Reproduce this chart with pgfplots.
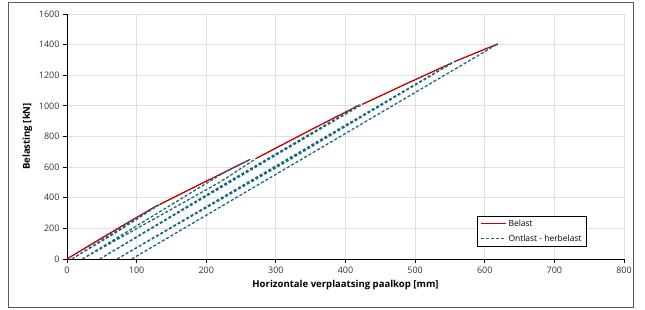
\documentclass[border=0pt]{standalone}
\usepackage{pgfplots}
\pgfplotsset{compat=1.18}
\usepackage{fontspec}
\setmainfont{Open Sans}
\definecolor{belast}{RGB}{192,0,0}
\definecolor{ontlast}{RGB}{24,104,128}
\begin{document}
\begin{tikzpicture}
\path[use as bounding box] (0,0) rectangle (645bp,310bp);
\draw[black!65, line width=0.8bp] (8bp,3bp) rectangle (633bp,308bp);
\begin{axis}[
  at={(67bp,51bp)}, anchor=south west,
  scale only axis, width=557bp, height=245bp,
  xmin=0, xmax=800, ymin=0, ymax=1600,
  xtick={0,100,...,800}, ytick={0,200,...,1600},
  axis lines=left, axis line style={-, black, line width=0.8bp},
  grid=major, grid style={draw=black!12, line width=0.8bp},
  tick align=outside, major tick length=4bp, tick style={black, line width=0.8bp},
  /pgf/number format/assume math mode=true,
  /pgf/number format/set thousands separator={},
  tick label style={font=\fontsize{9}{10}\selectfont, text=black!80},
  xlabel={\bfseries Horizontale verplaatsing paalkop [mm]},
  ylabel={\bfseries Belasting [kN]},
  label style={font=\fontsize{9.6}{11}\selectfont},
  unbounded coords=jump,
  legend style={at={(0.736,0.049)}, anchor=south west, draw=black, line width=0.6bp,
    font=\fontsize{8.5}{10}\selectfont, row sep=3bp, inner xsep=3bp, inner ysep=2bp},
  legend cell align=left,
  legend image code/.code={\draw[#1] (0bp,0bp) -- (25bp,0bp);},
]
\addplot[belast, line width=1.3bp] coordinates {
 (0,0) (40,110) (80,218) (130,351)
 (131,nan)
 (133,356) (200,508) (263,650)
 (264,nan)
 (273,660) (350,843) (420,1006)
 (421,nan)
 (424,1010) (490,1150) (553,1281)
 (554,nan)
 (557,1290) (619,1405)
};
\addlegendentry{Belast}
\addplot[ontlast, line width=1.3bp, dash pattern=on 3bp off 2bp] coordinates {
 (7,0) (70,182) (131,353)
 (8,nan)
 (7,0) (70,172) (133,356)
 (8,nan)
 (22,0) (220,549) (240,600) (263,650)
 (23,nan)
 (22,0) (220,503) (273,660)
 (23,nan)
 (47,0) (230,500) (420,1006)
 (48,nan)
 (47,0) (230,490) (424,1010)
 (48,nan)
 (72,0) (310,635) (553,1281)
 (73,nan)
 (72,0) (310,622) (557,1290)
 (73,nan)
 (93,0) (619,1405)
};
\addlegendentry{Ontlast - herbelast}
\end{axis}
\end{tikzpicture}
\end{document}
